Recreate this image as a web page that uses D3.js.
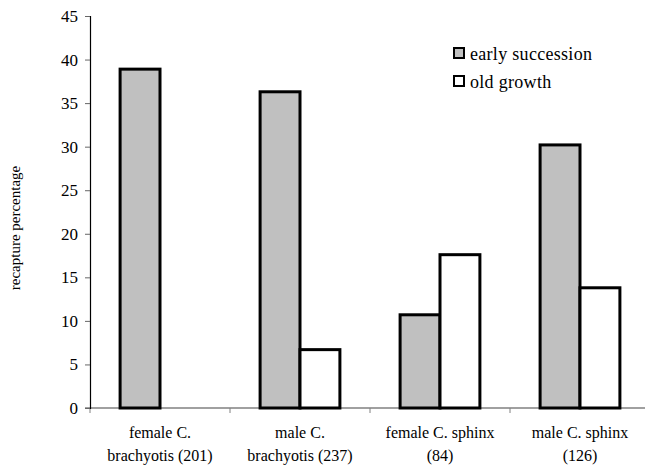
<!DOCTYPE html>
<html>
<head>
<meta charset="utf-8">
<script src="https://cdn.jsdelivr.net/npm/d3@7"></script>
<style>
    body { margin: 0; background: #fff; }
</style>
</head>
<body>
<script>
// Chart data
var categories = [
    ["female C.", "brachyotis (201)"],
    ["male C.", "brachyotis (237)"],
    ["female C. sphinx", "(84)"],
    ["male C. sphinx", "(126)"]
];
var seriesNames = ["early succession", "old growth"];
var earlySuccession = [38.9, 36.3, 10.7, 30.2];
var oldGrowth = [0, 6.7, 17.6, 13.8];
var yTicks = [0, 5, 10, 15, 20, 25, 30, 35, 40, 45];
var seriesColors = ["#c0c0c0", "#ffffff"];

var serif = "'Liberation Serif', 'Times New Roman', Times, serif";

window.onload = function(){

    var w = 645, h = 467;
    var left = 90, right = 650, top = 16, bottom = 408;

    var svg = d3.select("body")
        .append("svg")
        .attr("width", w)
        .attr("height", h)
        .attr("class", "container")
        .style("font-family", serif);

    // Scales
    var x = d3.scaleBand()
        .domain(d3.range(categories.length))
        .range([left, right])
        .paddingInner(0.43)
        .paddingOuter(0.215);

    var xSub = d3.scaleBand()
        .domain([0, 1])
        .range([0, x.bandwidth()]);

    var y = d3.scaleLinear()
        .domain([0, 45])
        .range([bottom, top]);

    // X axis (gray baseline with ticks at category boundaries), drawn under the bars
    var xAxis = svg.append("g").attr("class", "xaxis");
    xAxis.append("line")
        .attr("x1", left - 5).attr("x2", right)
        .attr("y1", y(0)).attr("y2", y(0))
        .attr("stroke", "#808080")
        .attr("stroke-width", 1.5);
    var boundaries = d3.range(categories.length + 1).map(function(i){
        return left + i * x.step();
    });
    xAxis.selectAll(".xtick")
        .data(boundaries)
        .enter()
        .append("line")
        .attr("class", "xtick")
        .attr("x1", function(d){ return d; }).attr("x2", function(d){ return d; })
        .attr("y1", y(0)).attr("y2", y(0) + 5)
        .attr("stroke", "#808080");

    // Y axis
    var yAxis = svg.append("g")
        .attr("class", "yaxis")
        .attr("transform", "translate(" + left + ",0)")
        .call(d3.axisLeft(y).tickValues(yTicks).tickSize(5).tickPadding(7));
    yAxis.attr("font-family", null).attr("font-size", null);
    yAxis.select(".domain").attr("stroke", "#000").attr("stroke-width", 1.2);
    yAxis.selectAll(".tick line").attr("stroke", "#666");
    yAxis.selectAll(".tick text")
        .style("font-size", "17px")
        .style("font-family", serif);

    // Bars
    var rows = categories.map(function(c, i){
        return [earlySuccession[i], oldGrowth[i]];
    });

    var groups = svg.selectAll(".group")
        .data(rows)
        .enter()
        .append("g")
        .attr("class", "group")
        .attr("transform", function(d, i){ return "translate(" + x(i) + ",0)"; });

    groups.selectAll("rect")
        .data(function(d){ return d.map(function(v, j){ return {v: v, j: j}; }); })
        .enter()
        .filter(function(d){ return d.v > 0; })
        .append("rect")
        .attr("x", function(d){ return xSub(d.j); })
        .attr("width", xSub.bandwidth())
        .attr("y", function(d){ return y(d.v); })
        .attr("height", function(d){ return y(0) - y(d.v); })
        .style("fill", function(d){ return seriesColors[d.j]; })
        .style("stroke", "#000")
        .style("stroke-width", 3);

    // Category labels
    var labels = svg.selectAll(".clabel")
        .data(categories)
        .enter()
        .append("text")
        .attr("class", "clabel")
        .attr("text-anchor", "middle")
        .style("font-family", serif)
        .style("font-size", "16px")
        .attr("y", 438);
    labels.selectAll("tspan")
        .data(function(d, i){ return d.map(function(t){ return {t: t, i: i}; }); })
        .enter()
        .append("tspan")
        .attr("x", function(d){ return x(d.i) + x.bandwidth() / 2; })
        .attr("dy", function(d, k){ return k === 0 ? 0 : 23; })
        .text(function(d){ return d.t; });

    // Y axis title
    svg.append("text")
        .attr("text-anchor", "middle")
        .attr("transform", "translate(20," + 228 + ") rotate(-90)")
        .style("font-family", serif)
        .style("font-size", "15px")
        .text("recapture percentage");

    // Legend
    var legend = svg.selectAll(".legend")
        .data(seriesNames)
        .enter()
        .append("g")
        .attr("class", "legend")
        .attr("transform", function(d, i){ return "translate(454," + (48 + i * 28) + ")"; });
    legend.append("rect")
        .attr("width", 10).attr("height", 10)
        .style("fill", function(d, i){ return seriesColors[i]; })
        .style("stroke", "#000")
        .style("stroke-width", 2);
    legend.append("text")
        .attr("x", 16)
        .attr("y", 12)
        .style("font-family", serif)
        .style("font-size", "18px")
        .style("letter-spacing", "0.3px")
        .text(function(d){ return d; });
};
</script>
</body>
</html>
